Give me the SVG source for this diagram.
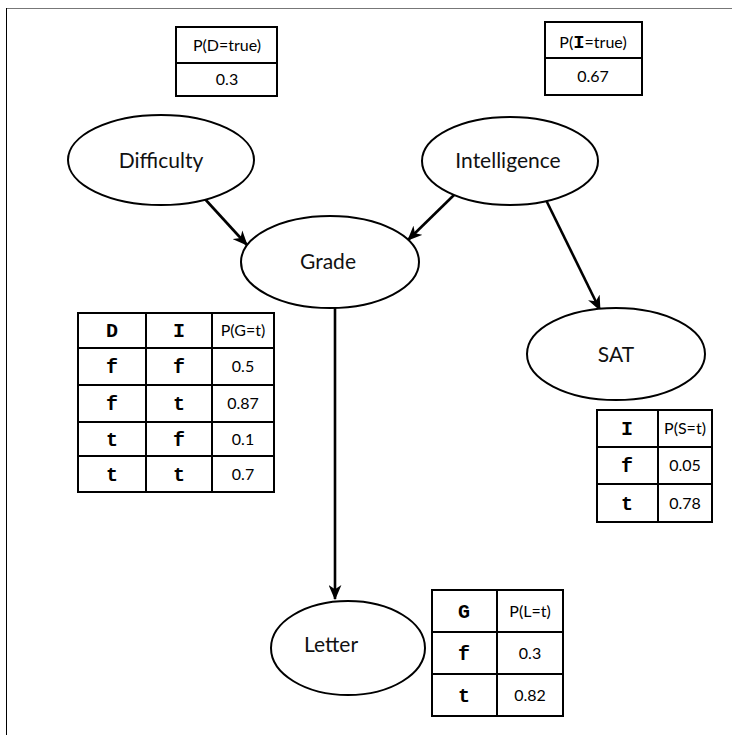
<svg xmlns="http://www.w3.org/2000/svg" width="732" height="735" viewBox="0 0 732 735">
  <defs>
    <marker id="arrow" viewBox="0 0 14 12" refX="13" refY="6" markerWidth="15" markerHeight="13" markerUnits="userSpaceOnUse" orient="auto">
      <path d="M0,0 L14,6 L0,12 L4,6 z" fill="#000"/>
    </marker>
  </defs>
  <style>
    .node ellipse { fill: #fff; stroke: #000; stroke-width: 2; }
    .label { font-family: Lato, "Open Sans", sans-serif; font-size: 21px; fill: #111; text-anchor: middle; }
    .edge { stroke: #000; stroke-width: 2.6; fill: none; marker-end: url(#arrow); }
    .cell { fill: #fff; stroke: #000; stroke-width: 2; }
    .num { font-family: Lato, "Open Sans", sans-serif; font-size: 16px; fill: #000; text-anchor: middle; }
    .hdr { font-family: Lato, "Open Sans", sans-serif; font-size: 16px; fill: #000; text-anchor: middle; }
    .mono { font-family: "Liberation Mono", "Courier New", monospace; font-weight: bold; font-size: 20px; fill: #000; text-anchor: middle; }
  </style>

  <rect width="732" height="735" fill="#fff"/>
  <!-- page frame -->
  <line x1="6" y1="8.5" x2="732" y2="8.5" stroke="#777" stroke-width="1.2"/>
  <line x1="6.5" y1="8" x2="6.5" y2="735" stroke="#000" stroke-width="1"/>

  <!-- connectors -->
  <g id="edges">
    <line class="edge" x1="204" y1="198" x2="247" y2="245"/>
    <line class="edge" x1="454" y1="195" x2="408" y2="240"/>
    <line class="edge" x1="546" y1="200" x2="600" y2="310"/>
    <line class="edge" x1="335" y1="308" x2="335" y2="599"/>
  </g>

  <g id="difficulty" class="node">
    <ellipse cx="161" cy="160" rx="93" ry="45"/>
    <text class="label" x="161" y="168">Difficulty</text>
  </g>
  <g id="intelligence" class="node">
    <ellipse cx="510" cy="161" rx="88" ry="44"/>
    <text class="label" x="508" y="168">Intelligence</text>
  </g>
  <g id="grade" class="node">
    <ellipse cx="330" cy="262" rx="89" ry="46"/>
    <text class="label" x="328" y="269">Grade</text>
  </g>
  <g id="sat" class="node">
    <ellipse cx="616" cy="354" rx="89" ry="46"/>
    <text class="label" x="616" y="362">SAT</text>
  </g>
  <g id="letter" class="node">
    <ellipse cx="348" cy="648" rx="77" ry="47"/>
    <text class="label" x="331" y="652">Letter</text>
  </g>

  <!-- prior of Difficulty -->
  <g id="cpt-difficulty">
    <rect class="cell" x="176" y="27" width="101" height="36"/>
    <rect class="cell" x="176" y="63" width="101" height="33"/>
    <text class="hdr" x="227" y="51">P(D=true)</text>
    <text class="num" x="227" y="85">0.3</text>
  </g>

  <!-- prior of Intelligence -->
  <g id="cpt-intelligence">
    <rect class="cell" x="545" y="22" width="97" height="36"/>
    <rect class="cell" x="545" y="58" width="97" height="37"/>
    <text class="hdr" x="593" y="48">P(<tspan class="mono" style="font-size:19px">I</tspan>=true)</text>
    <text class="num" x="593" y="82">0.67</text>
  </g>

  <!-- CPT of Grade -->
  <g id="cpt-grade">
    <rect class="cell" x="78" y="313" width="68" height="35"/>
    <rect class="cell" x="146" y="313" width="66" height="35"/>
    <rect class="cell" x="212" y="313" width="62" height="35"/>
    <rect class="cell" x="78" y="348" width="68" height="37"/>
    <rect class="cell" x="146" y="348" width="66" height="37"/>
    <rect class="cell" x="212" y="348" width="62" height="37"/>
    <rect class="cell" x="78" y="385" width="68" height="37"/>
    <rect class="cell" x="146" y="385" width="66" height="37"/>
    <rect class="cell" x="212" y="385" width="62" height="37"/>
    <rect class="cell" x="78" y="422" width="68" height="34"/>
    <rect class="cell" x="146" y="422" width="66" height="34"/>
    <rect class="cell" x="212" y="422" width="62" height="34"/>
    <rect class="cell" x="78" y="456" width="68" height="36"/>
    <rect class="cell" x="146" y="456" width="66" height="36"/>
    <rect class="cell" x="212" y="456" width="62" height="36"/>
    <text class="mono" x="112" y="337">D</text>
    <text class="mono" x="179" y="337">I</text>
    <text class="hdr" x="243" y="336">P(G=t)</text>
    <text class="mono" x="112" y="373">f</text>
    <text class="mono" x="179" y="373">f</text>
    <text class="num" x="243" y="372">0.5</text>
    <text class="mono" x="112" y="410">f</text>
    <text class="mono" x="179" y="410">t</text>
    <text class="num" x="243" y="409">0.87</text>
    <text class="mono" x="112" y="446">t</text>
    <text class="mono" x="179" y="446">f</text>
    <text class="num" x="243" y="445">0.1</text>
    <text class="mono" x="112" y="481">t</text>
    <text class="mono" x="179" y="481">t</text>
    <text class="num" x="243" y="480">0.7</text>
  </g>

  <!-- CPT of SAT -->
  <g id="cpt-sat">
    <rect class="cell" x="597" y="410" width="61" height="37"/>
    <rect class="cell" x="658" y="410" width="54" height="37"/>
    <rect class="cell" x="597" y="447" width="61" height="37"/>
    <rect class="cell" x="658" y="447" width="54" height="37"/>
    <rect class="cell" x="597" y="484" width="61" height="38"/>
    <rect class="cell" x="658" y="484" width="54" height="38"/>
    <text class="mono" x="627" y="435">I</text>
    <text class="hdr" x="685" y="434">P(S=t)</text>
    <text class="mono" x="627" y="472">f</text>
    <text class="num" x="685" y="471">0.05</text>
    <text class="mono" x="627" y="510">t</text>
    <text class="num" x="685" y="509">0.78</text>
  </g>

  <!-- CPT of Letter -->
  <g id="cpt-letter">
    <rect class="cell" x="432" y="590" width="65" height="42"/>
    <rect class="cell" x="497" y="590" width="66" height="42"/>
    <rect class="cell" x="432" y="632" width="65" height="42"/>
    <rect class="cell" x="497" y="632" width="66" height="42"/>
    <rect class="cell" x="432" y="674" width="65" height="42"/>
    <rect class="cell" x="497" y="674" width="66" height="42"/>
    <text class="mono" x="464" y="618">G</text>
    <text class="hdr" x="530" y="617">P(L=t)</text>
    <text class="mono" x="464" y="660">f</text>
    <text class="num" x="530" y="659">0.3</text>
    <text class="mono" x="464" y="702">t</text>
    <text class="num" x="530" y="701">0.82</text>
  </g>
</svg>
